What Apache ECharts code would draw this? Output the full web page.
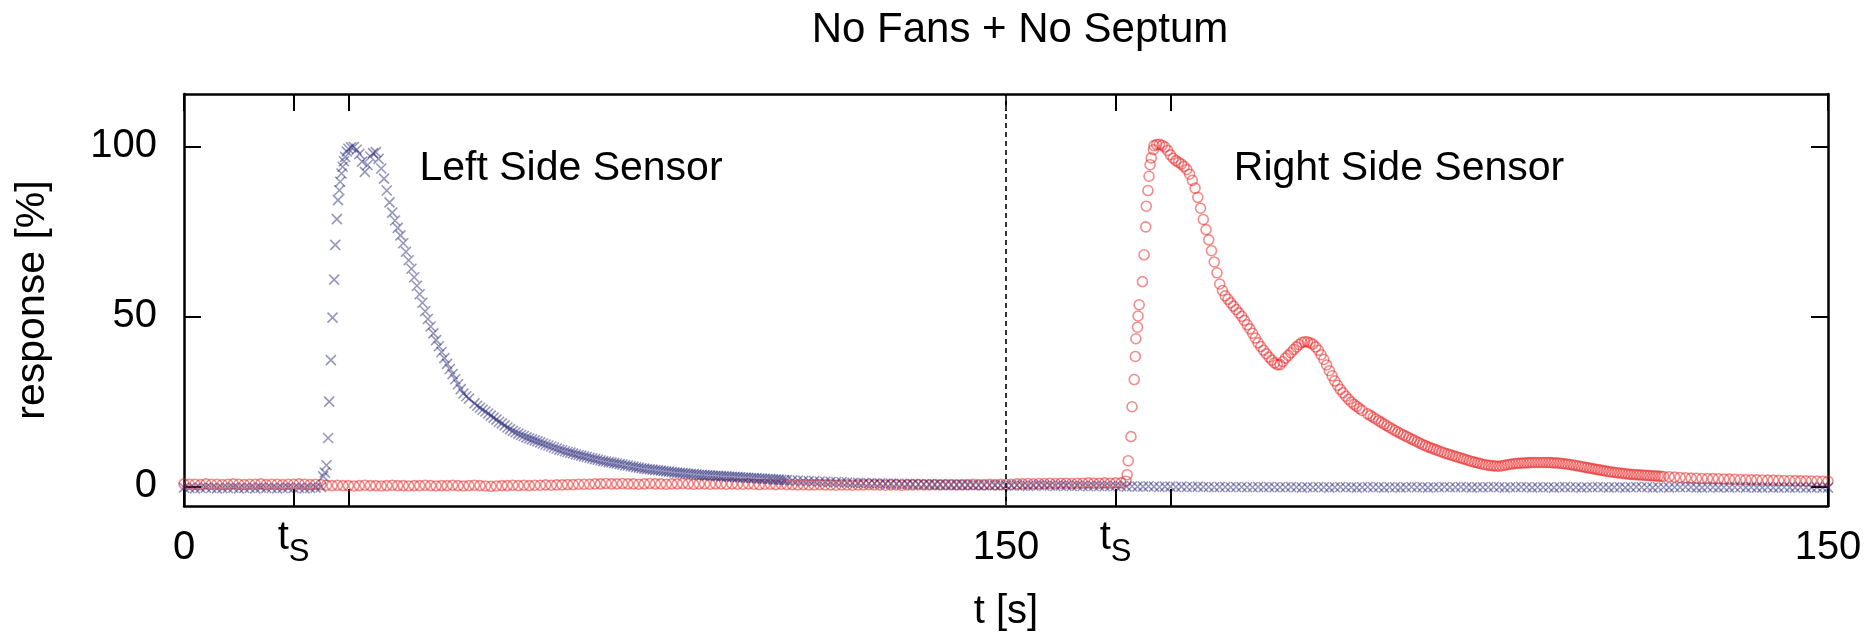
<!DOCTYPE html>
<html>
<head>
<meta charset="utf-8">
<script src="https://cdn.jsdelivr.net/npm/echarts@6/dist/echarts.min.js"></script>
<style>html,body{margin:0;padding:0;background:#fff}#c{width:1876px;height:637px}</style>
</head>
<body>
<div id="c"></div>
<script>
// ---------- tick / label definitions ----------
const xTickValues = [0, 20, 30, 150, 170, 180, 300];
const xLabelValues = [0, 20, 150, 170, 300];
const xLabelTexts = ['0', 'tS', '150', 'tS', '150'];
const yTickValues = [0, 50, 100];
const yLabelTexts = ['0', '50', '100'];

// ---------- Left Side Sensor (blue x) ----------
// t = 0..25, step 1
const blueBaseL = [-0.4,-0.5,-0.6,-0.5,-0.4,-0.5,-0.6,-0.5,-0.5,-0.4,-0.6,-0.5,-0.5,-0.6,-0.4,-0.5,-0.5,-0.6,-0.5,-0.4,-0.5,-0.5,-0.6,-0.5,-0.4,-0.2];
// sparse rising points
const blueRiseT = [25.4, 25.7, 26.0, 26.3, 26.5, 26.8, 27.1, 27.4, 27.6, 27.9, 28.1, 28.35, 28.5, 28.75, 28.95, 29.2, 29.4, 29.7];
const blueRiseV = [2.9, 4.0, 6.2, 14.2, 24.9, 37.1, 49.6, 60.8, 71.0, 78.6, 84.2, 87.1, 89.6, 92.0, 94.0, 95.6, 96.9, 98.5];
// t = 30..52, step 0.5
const blueDecayA = [99.3,99.7,99.8,99.0,97.8,95.5,92.5,94.5,97.0,98.0,98.3,96.3,93.5,90.5,87.0,83.5,80.5,78.2,76.0,73.8,71.5,69.0,66.5,64.0,61.5,59.0,56.5,54.0,51.5,49.2,47.0,45.0,43.0,41.2,39.5,37.7,36.0,34.5,33.0,31.5,30.0,28.6,27.3,26.5,25.8];
// t = 53..110, step 0.5
const blueDecayB = [24.4,23.7,23.1,22.5,22.0,21.4,20.8,20.2,19.6,19.0,
  18.5,17.9,17.3,16.8,16.3,15.9,15.5,15.1,14.8,14.4,
  14.1,13.8,13.5,13.2,12.9,12.6,12.3,12.0,11.7,11.4,
  11.1,10.8,10.6,10.3,10.1,9.9,9.7,9.4,9.2,9.0,
  8.8,8.6,8.4,8.2,8.0,7.8,7.6,7.4,7.3,7.1,
  7.0,6.8,6.7,6.5,6.4,6.2,6.1,5.9,5.8,5.6,
  5.5,5.3,5.2,5.1,5.0,4.9,4.8,4.7,4.6,4.5,
  4.4,4.3,4.2,4.1,4.0,3.95,3.9,3.8,3.7,3.65,
  3.6,3.5,3.4,3.35,3.3,3.25,3.2,3.15,3.1,3.05,
  3.0,2.95,2.9,2.85,2.8,2.75,2.7,2.65,2.6,2.55,
  2.5,2.45,2.4,2.35,2.3,2.25,2.2,2.15,2.1,2.05,
  2.0,1.95,1.9,1.85,1.8];
// t = 111..150, step 1
const blueDecayC = [1.75,1.7,1.6,1.55,1.5,1.4,1.35,1.3,1.25,1.2,
  1.1,1.05,1.0,0.95,0.9,0.9,0.85,0.8,0.8,0.75,
  0.7,0.7,0.65,0.6,0.6,0.55,0.5,0.5,0.45,0.4,
  0.4,0.4,0.35,0.35,0.3,0.3,0.3,0.25,0.25,0.2];
// t = 151..300, step 1 (left sensor during right-side run)
const blueRight = [0.2,0.3,0.2,0.1,0.2,0.3,0.2,0.2,0.1,0.2,
  0.2,0.1,0.2,0.1,0.0,0.1,0.1,0.0,0.0,0.1,
  0.0,-0.1,0.0,-0.1,-0.1,0.0,-0.1,-0.2,-0.1,-0.1,
  -0.2,-0.1,-0.2,-0.2,-0.1,-0.2,-0.2,-0.3,-0.2,-0.2,
  -0.3,-0.2,-0.2,-0.3,-0.3,-0.2,-0.3,-0.2,-0.3,-0.3,
  -0.3,-0.2,-0.3,-0.4,-0.3,-0.3,-0.2,-0.3,-0.4,-0.3,
  -0.2,-0.3,-0.3,-0.4,-0.3,-0.2,-0.3,-0.3,-0.4,-0.3,
  -0.3,-0.4,-0.3,-0.2,-0.3,-0.3,-0.4,-0.3,-0.3,-0.2,
  -0.3,-0.3,-0.2,-0.3,-0.4,-0.3,-0.3,-0.3,-0.2,-0.3,
  -0.4,-0.3,-0.3,-0.2,-0.3,-0.4,-0.3,-0.3,-0.3,-0.4,
  -0.3,-0.2,-0.3,-0.3,-0.4,-0.3,-0.3,-0.2,-0.3,-0.4,
  -0.3,-0.3,-0.4,-0.3,-0.2,-0.3,-0.3,-0.4,-0.3,-0.3,
  -0.4,-0.3,-0.3,-0.2,-0.3,-0.4,-0.4,-0.3,-0.3,-0.4,
  -0.3,-0.4,-0.3,-0.3,-0.4,-0.3,-0.4,-0.4,-0.3,-0.4,
  -0.4,-0.3,-0.4,-0.4,-0.3,-0.4,-0.4,-0.3,-0.4,-0.4];

// ---------- Right Side Sensor (red o) ----------
// t = 0..150, step 1 (right sensor during left-side run)
const redLeft = [0.7,0.6,0.6,0.5,0.7,0.6,0.6,0.5,0.6,0.7,
  0.6,0.5,0.6,0.6,0.7,0.5,0.6,0.6,0.5,0.6,
  0.6,0.7,0.6,0.5,0.6,0.5,0.3,0.2,0.3,0.2,
  0.2,0.1,0.2,0.3,0.2,0.2,0.1,0.2,0.3,0.2,
  0.2,0.1,0.2,0.2,0.3,0.2,0.1,0.2,0.2,0.3,
  0.2,0.1,0.2,0.3,0.2,0.1,0.0,0.1,0.2,0.2,
  0.3,0.2,0.3,0.2,0.3,0.3,0.4,0.3,0.4,0.4,
  0.5,0.5,0.6,0.6,0.6,0.7,0.7,0.8,0.7,0.7,
  0.8,0.7,0.7,0.6,0.7,0.8,0.7,0.7,0.6,0.7,
  0.7,0.8,0.7,0.6,0.7,0.7,0.6,0.7,0.7,0.6,
  0.7,0.6,0.6,0.7,0.6,0.5,0.6,0.6,0.5,0.6,
  0.5,0.5,0.4,0.5,0.4,0.4,0.5,0.4,0.4,0.3,
  0.4,0.4,0.3,0.4,0.4,0.5,0.4,0.4,0.3,0.4,
  0.4,0.3,0.4,0.4,0.5,0.4,0.4,0.5,0.4,0.5,
  0.5,0.4,0.5,0.5,0.6,0.5,0.5,0.6,0.5,0.6,0.6];
// t = 151..171, step 1
const redRightBase = [0.6,0.7,0.7,0.8,0.7,0.8,0.8,0.9,0.8,0.9,0.9,0.8,0.9,0.9,1.0,0.9,0.9,1.0,0.9,1.0,1.0];
// sparse rising points
const redRiseT = [171.9, 172.1, 172.3, 172.8, 173.0, 173.4, 173.6, 173.7, 174.0, 174.1, 174.3, 174.9, 175.2, 175.5, 175.6, 175.9, 176.1, 176.3, 176.5, 176.9];
const redRiseV = [1.5, 3.4, 7.5, 14.6, 23.4, 31.4, 38.2, 43.4, 46.8, 50.1, 53.4, 60.2, 68.1, 76.3, 82.4, 87.0, 91.2, 94.6, 96.6, 99.0];
// t = 177..215, step 0.5
const redDecayA = [100.2,100.5,100.6,100.3,99.8,98.8,97.5,96.5,95.8,95.3,
  94.8,94.1,93.2,91.8,90.0,87.7,85.0,81.8,78.5,75.5,
  72.5,69.3,66.0,62.8,59.5,57.6,56.0,55.0,54.0,53.0,
  52.0,51.0,50.0,48.8,47.5,46.3,45.0,43.6,42.2,41.1,
  40.0,39.0,38.0,37.1,36.3,35.8,35.8,36.7,37.7,38.5,
  39.3,40.2,41.0,41.7,42.3,42.5,42.5,42.2,41.8,41.0,
  40.0,38.7,37.3,35.7,34.0,32.5,31.0,29.7,28.5,27.5,
  26.5,25.6,24.8,24.1,23.5,22.9,22.3];
// t = 216..270, step 0.5
const redDecayB = [21.3,20.8,20.3,19.8,19.3,18.8,18.3,17.8,17.3,16.85,
  16.4,15.95,15.5,15.1,14.7,14.3,13.9,13.5,13.1,12.7,
  12.3,11.95,11.6,11.3,11.0,10.7,10.4,10.1,9.8,9.55,
  9.3,9.05,8.8,8.55,8.3,8.05,7.8,7.55,7.3,7.1,
  6.9,6.7,6.5,6.35,6.2,6.1,6.0,5.95,5.9,6.05,
  6.2,6.35,6.5,6.6,6.7,6.75,6.8,6.85,6.9,6.95,
  7.0,7.0,7.0,7.0,7.0,7.0,7.0,6.95,6.9,6.85,
  6.8,6.7,6.6,6.5,6.4,6.25,6.1,5.95,5.8,5.65,
  5.5,5.35,5.2,5.05,4.9,4.75,4.6,4.45,4.3,4.2,
  4.1,4.0,3.9,3.8,3.7,3.6,3.5,3.45,3.4,3.35,
  3.3,3.25,3.2,3.15,3.1,3.05,3.0,2.95,2.9];
// t = 271..300, step 1
const redDecayC = [2.8,2.7,2.6,2.5,2.4,2.35,2.3,2.3,2.25,2.2,
  2.15,2.1,2.05,2.0,1.95,1.9,1.9,1.85,1.8,1.8,
  1.75,1.7,1.7,1.65,1.6,1.6,1.55,1.55,1.5,1.5];

// ---------- assemble ----------
function seg(t0, dt, vals) { return vals.map((v, i) => [Math.round((t0 + i * dt) * 100) / 100, v]); }
function pairs(ts, vs) { return ts.map((t, i) => [t, vs[i]]); }

const blueData = [].concat(seg(0, 1, blueBaseL), pairs(blueRiseT, blueRiseV), seg(30, 0.5, blueDecayA),
  seg(53, 0.5, blueDecayB), seg(111, 1, blueDecayC), seg(151, 1, blueRight));
const redData = [].concat(seg(0, 1, redLeft), seg(151, 1, redRightBase), pairs(redRiseT, redRiseV),
  seg(177, 0.5, redDecayA), seg(216, 0.5, redDecayB), seg(271, 1, redDecayC));

const FONT = '"Liberation Sans", Arial, Helvetica, sans-serif';
const FS = 40;

function xLabel(v) {
  const i = xLabelValues.indexOf(v);
  const txt = i >= 0 ? xLabelTexts[i] : '';
  if (txt === 'tS') return '{t|t}{s|S}';
  return '{d|' + txt + '}';
}
function yLabel(v) {
  const i = yTickValues.indexOf(v);
  return i >= 0 ? yLabelTexts[i] : '';
}

const axisLine = { show: true, onZero: false, lineStyle: { color: '#000', width: 2.5 } };
const tickStyle = { color: '#000', width: 2 };

const chart = echarts.init(document.getElementById('c'), null, { renderer: 'canvas' });
chart.setOption({
  animation: false,
  backgroundColor: '#fff',
  grid: { left: 184, right: 48, top: 94, bottom: 129, containLabel: false },
  xAxis: [
    {
      type: 'value', min: 0, max: 300, position: 'bottom',
      axisLine: axisLine,
      axisTick: { show: true, inside: true, length: 17, customValues: xTickValues, lineStyle: tickStyle },
      axisLabel: {
        customValues: xLabelValues, formatter: xLabel, margin: 22, color: '#000',
        rich: {
          d: { fontSize: FS, lineHeight: FS, fontFamily: FONT, color: '#000', verticalAlign: 'top' },
          t: { fontSize: FS, lineHeight: FS, fontFamily: FONT, color: '#000', padding: [0, 0, 10, 0], verticalAlign: 'bottom' },
          s: { fontSize: 31, lineHeight: 31, fontFamily: FONT, color: '#000', verticalAlign: 'bottom' }
        }
      },
      splitLine: { show: false },
      name: 't [s]', nameLocation: 'middle', nameGap: 86,
      nameTextStyle: { fontSize: FS, fontFamily: FONT, color: '#000', verticalAlign: 'top' }
    },
    {
      type: 'value', min: 0, max: 300, position: 'top',
      axisLine: axisLine,
      axisTick: { show: true, inside: true, length: 17, customValues: xTickValues, lineStyle: tickStyle },
      axisLabel: { show: false },
      splitLine: { show: false }
    }
  ],
  yAxis: [
    {
      type: 'value', min: -5.8, max: 115.4, position: 'left',
      axisLine: axisLine,
      axisTick: { show: true, inside: true, length: 17, customValues: yTickValues, lineStyle: tickStyle },
      axisLabel: { customValues: yTickValues, formatter: yLabel, margin: 27, fontSize: FS, fontFamily: FONT, color: '#000' },
      splitLine: { show: false },
      name: 'response [%]', nameLocation: 'middle', nameGap: 131,
      nameTextStyle: { fontSize: 41, fontFamily: FONT, color: '#000' }
    },
    {
      type: 'value', min: -5.8, max: 115.4, position: 'right',
      axisLine: axisLine,
      axisTick: { show: true, inside: true, length: 17, customValues: yTickValues, lineStyle: tickStyle },
      axisLabel: { show: false },
      splitLine: { show: false }
    }
  ],
  series: [
    {
      name: 'Right Side Sensor', type: 'scatter', xAxisIndex: 0, yAxisIndex: 0,
      data: redData, symbol: 'circle', symbolSize: 10,
      itemStyle: { color: 'rgba(0,0,0,0)', borderColor: 'rgba(232,34,34,0.65)', borderWidth: 1.6 },
      emphasis: { disabled: true }, silent: true,
      markLine: {
        silent: true, symbol: ['none', 'none'], label: { show: false },
        lineStyle: { color: '#333', type: [5, 4], width: 2 },
        data: [{ xAxis: 150 }]
      }
    },
    {
      name: 'Left Side Sensor', type: 'scatter', xAxisIndex: 0, yAxisIndex: 0,
      data: blueData, symbol: 'path://M0,0L10,10M10,0L0,10', symbolSize: 10,
      itemStyle: { color: 'rgba(0,0,0,0)', borderColor: 'rgba(38,38,120,0.6)', borderWidth: 1.6 },
      emphasis: { disabled: true }, silent: true
    }
  ],
  graphic: [
    { type: 'text', x: 1020, y: 9, style: { text: 'No Fans + No Septum', font: '42px ' + FONT, fill: '#000', textAlign: 'center', textVerticalAlign: 'top' } },
    { type: 'text', x: 571, y: 169, style: { text: 'Left Side Sensor', font: '41px ' + FONT, fill: '#000', textAlign: 'center', textVerticalAlign: 'middle' } },
    { type: 'text', x: 1399, y: 169, style: { text: 'Right Side Sensor', font: '41px ' + FONT, fill: '#000', textAlign: 'center', textVerticalAlign: 'middle' } }
  ]
});
</script>
</body>
</html>
